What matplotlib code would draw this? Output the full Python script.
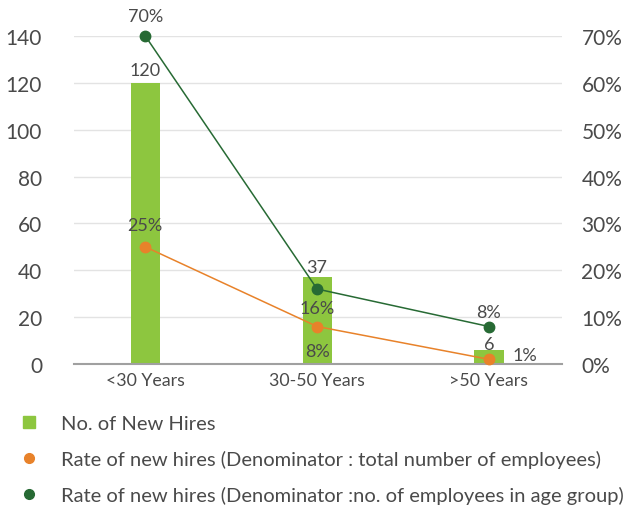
import matplotlib.pyplot as plt
from matplotlib.lines import Line2D

plt.rcParams['font.family'] = ['Lato', 'DejaVu Sans']

categories = ['<30 Years', '30-50 Years', '>50 Years']
new_hires = [120, 37, 6]
rate_total = [25, 8, 1]          # % of total employees
rate_age_group = [70, 16, 8]     # % of employees in the age group

BAR_GREEN = '#8DC63F'
DARK_GREEN = '#276A34'
ORANGE = '#E8822A'
TEXT = '#4A4A4A'

fig = plt.figure(figsize=(6.3, 5.06), dpi=100)
ax = fig.add_axes([74 / 630, 1 - 365 / 506, 488 / 630, 328 / 506])
ax2 = ax.twinx()

x = list(range(len(categories)))
ax.bar(x, new_hires, width=0.17, color=BAR_GREEN, zorder=2)
ax.set_ylim(0, 140)
ax.set_yticks(range(0, 141, 20))
ax.set_xlim(-0.415, 2.425)
ax.set_xticks(x)
ax.set_xticklabels(categories)
ax.grid(axis='y', color='#E3E3E3', linewidth=1, zorder=0)
ax.set_axisbelow(True)

ax2.set_ylim(0, 70)
ax2.set_yticks(range(0, 71, 10))
ax2.set_yticklabels([f'{v}%' for v in range(0, 71, 10)])

for a in (ax, ax2):
    for s in a.spines.values():
        s.set_visible(False)
    a.tick_params(length=0, colors=TEXT, labelsize=15)
ax.spines['bottom'].set_visible(True)
ax.spines['bottom'].set_color('#A0A0A0')
ax.spines['bottom'].set_linewidth(1.5)
ax.tick_params(axis='y', pad=23)
ax.tick_params(axis='x', pad=6, labelsize=12.8)
ax2.tick_params(axis='y', pad=14)

ax2.plot(x, rate_total, color=ORANGE, lw=1.1, marker='o', ms=7.5,
         zorder=3, clip_on=False)
ax2.plot(x, rate_age_group, color=DARK_GREEN, lw=1.1, marker='o', ms=7.5,
         zorder=4, clip_on=False)

fs = 13
bar_offsets = [9.4, 7.2, 4.3]
for xi, v, dy in zip(x, new_hires, bar_offsets):
    ax.annotate(f'{v}', (xi, v), xytext=(0, dy), textcoords='offset points',
                ha='center', va='center', color=TEXT, fontsize=fs)

green_offsets = [(0, 14.4), (0, -13.7), (0, 10.4)]
for xi, v, (dx, dy) in zip(x, rate_age_group, green_offsets):
    ax2.annotate(f'{v}%', (xi, v), xytext=(dx, dy), textcoords='offset points',
                 ha='center', va='center', color=TEXT, fontsize=fs,
                 annotation_clip=False)

orange_offsets = [(0, 15.8, 'center'), (0, -17.3, 'center'), (17, 3, 'left')]
for xi, v, (dx, dy, ha) in zip(x, rate_total, orange_offsets):
    ax2.annotate(f'{v}%', (xi, v), xytext=(dx, dy), textcoords='offset points',
                 ha=ha, va='center', color=TEXT, fontsize=fs,
                 annotation_clip=False)

handles = [
    Line2D([], [], ls='none', marker='s', ms=8, color=BAR_GREEN),
    Line2D([], [], ls='none', marker='o', ms=7, color=ORANGE),
    Line2D([], [], ls='none', marker='o', ms=7, color=DARK_GREEN),
]
labels = [
    'No. of New Hires',
    'Rate of new hires (Denominator : total number of employees)',
    'Rate of new hires (Denominator :no. of employees in age group)',
]
fig.legend(handles, labels, loc='upper left', bbox_to_anchor=(14 / 630, 1 - 416 / 506),
           frameon=False, fontsize=14.5, labelcolor=TEXT, handletextpad=0.85,
           labelspacing=0.88, handlelength=1.5, borderpad=0, borderaxespad=0)

fig.savefig('out.png', dpi=100, facecolor='white')
